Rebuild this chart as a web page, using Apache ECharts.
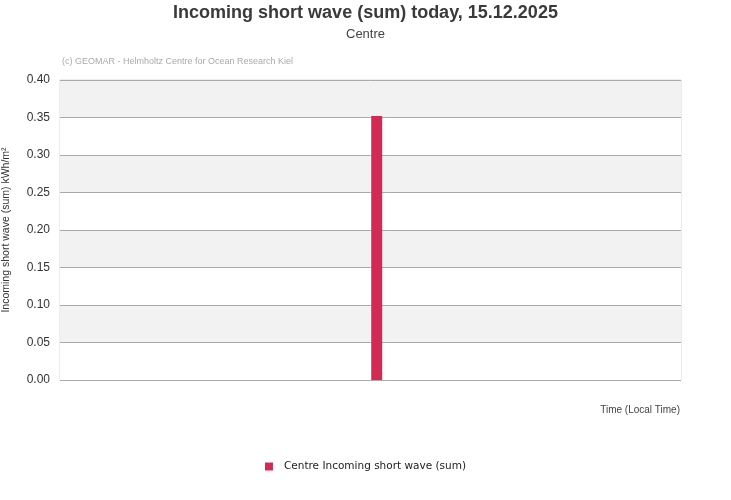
<!DOCTYPE html>
<html><head><meta charset="utf-8">
<script src="https://cdn.jsdelivr.net/npm/echarts@6/dist/echarts.min.js"></script>
<style>html,body{margin:0;padding:0;background:#fff}#c{width:731px;height:500px}</style>
</head><body><div id="c"></div>
<script>
const seriesName = 'Centre Incoming short wave (sum)';
const barX = [0.51];
const barValues = [0.352];
const yTicks = [0, 0.05, 0.10, 0.15, 0.20, 0.25, 0.30, 0.35, 0.40];

const chart = echarts.init(document.getElementById('c'));
const F = 'Liberation Sans, Arial, sans-serif';
chart.setOption({
  animation: false,
  backgroundColor: '#fff',
  title: [
    {text: 'Incoming short wave (sum) today, 15.12.2025', left: 'center', top: -1,
     textStyle: {fontFamily: F, fontSize: 18, fontWeight: 'bold', color: '#3a3a3a'}},
    {text: 'Centre', left: 'center', top: 23,
     textStyle: {fontFamily: F, fontSize: 13, fontWeight: 'normal', color: '#444'}},
    {text: '(c) GEOMAR - Helmholtz Centre for Ocean Research Kiel', left: 57, top: 52,
     textStyle: {fontFamily: F, fontSize: 9, fontWeight: 'normal', color: '#aaa'}},
    {text: 'Time (Local Time)', right: 46, top: 400,
     textStyle: {fontFamily: F, fontSize: 10, fontWeight: 'normal', color: '#444'}}
  ],
  legend: {
    bottom: 23, left: 'center', icon: 'rect', itemWidth: 8, itemHeight: 8, itemGap: 10,
    textStyle: {fontFamily: 'DejaVu Sans, Verdana, sans-serif', fontSize: 10.5, color: '#222', padding: [0, 0, 0, 6]},
    data: [seriesName]
  },
  grid: {left: 60, right: 50, top: 80, bottom: 120, containLabel: false, outerBoundsMode: 'none',
    show: true, borderColor: '#d8d8d8', borderWidth: 1},
  xAxis: {
    type: 'value', min: 0, max: 1,
    axisLine: {show: false}, axisTick: {show: false}, axisLabel: {show: false}, splitLine: {show: false}
  },
  yAxis: {
    type: 'value', min: yTicks[0], max: yTicks[yTicks.length - 1], interval: 0.05,
    name: 'Incoming short wave (sum) kWh/m²', nameLocation: 'middle', nameGap: 48,
    nameTextStyle: {fontFamily: F, fontSize: 10.5, color: '#333'},
    axisLine: {show: false}, axisTick: {show: false},
    axisLabel: {fontFamily: F, fontSize: 12, color: '#333', margin: 10,
      formatter: v => v.toFixed(2)},
    splitLine: {show: true, lineStyle: {color: '#aaaaaa', width: 1}},
    splitArea: {show: true, areaStyle: {color: ['#ffffff', '#f2f2f2']}}
  },
  series: [{
    name: seriesName, type: 'bar', barWidth: 11,
    itemStyle: {color: '#d22a55'},
    data: barX.map((x, i) => [x, barValues[i]])
  }]
});
</script></body></html>
